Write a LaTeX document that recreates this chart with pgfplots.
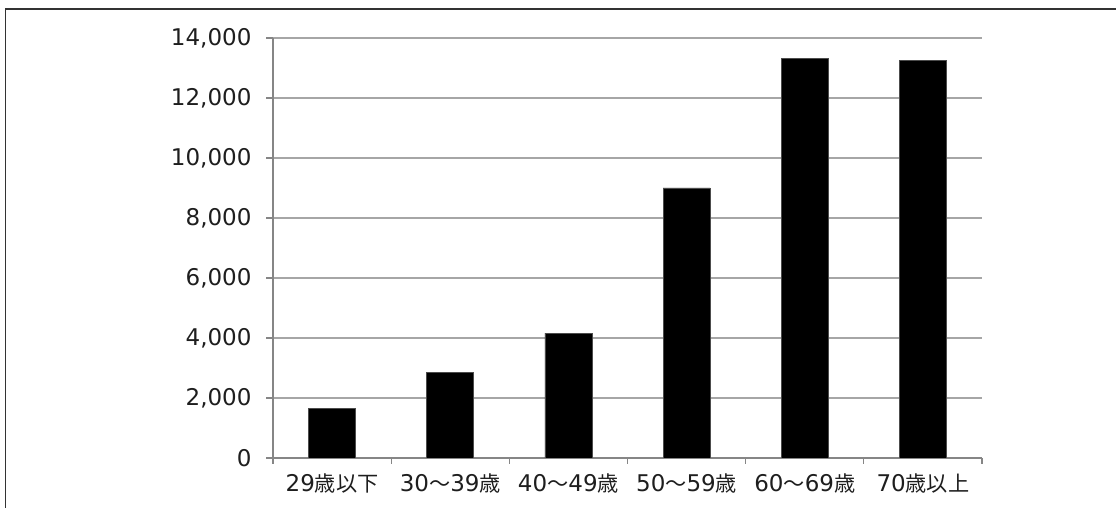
\documentclass[border=0pt]{standalone}
\usepackage{pgfplots}
\pgfplotsset{compat=1.18}
\usepackage{fontspec}
\setmainfont{DejaVu Sans}
\newfontfamily\cjk[Scale=0.92]{Noto Sans CJK JP}
\definecolor{gridgray}{HTML}{A6A6A6}
\definecolor{axisgray}{HTML}{868686}
\definecolor{txt}{HTML}{1E1E1E}
\begin{document}
\begin{tikzpicture}
\begin{axis}[
    scale only axis,
    width=709pt, height=420pt,
    at={(273pt,50pt)}, anchor=south west,
    ybar, bar width=47pt,
    xmin=-0.5, xmax=5.5,
    ymin=0, ymax=14000,
    axis lines=left,
    axis line style={-, axisgray, line width=1.3pt},
    tick align=outside,
    xtick={0,...,5},
    xticklabels={29{\cjk 歳以下}, 30{\cjk ～}39{\cjk 歳}, 40{\cjk ～}49{\cjk 歳}, 50{\cjk ～}59{\cjk 歳}, 60{\cjk ～}69{\cjk 歳}, 70{\cjk 歳以上}},
    major x tick style={draw=none},
    minor xtick={-0.5,0.5,...,5.5},
    minor x tick style={axisgray, line width=1.2pt},
    minor tick length=6pt,
    ytick={0,2000,...,14000},
    y tick style={axisgray, line width=1.2pt},
    major tick length=7pt,
    ymajorgrids,
    major grid style={gridgray, line width=1.2pt},
    scaled y ticks=false,
    /pgf/number format/fixed,
    /pgf/number format/1000 sep={,},
    /pgf/number format/assume math mode=true,
    tick label style={font=\fontsize{23}{27}\selectfont, text=txt},
    yticklabel style={xshift=-11pt},
    xticklabel style={yshift=-5pt},
]
\addplot[fill=black, draw=black!70, line width=0.8pt] coordinates {
(0, 1640)
(1, 2850)
(2, 4160)
(3, 9000)
(4, 13320)
(5, 13240)
};
\end{axis}
\draw[black!80, line width=1.4pt] (5.7pt,0pt) -- (5.7pt,499pt) -- (1116pt,499pt);
\pgfresetboundingbox
\path[use as bounding box] (0pt,0pt) rectangle (1116pt,508pt);
\end{tikzpicture}
\end{document}
